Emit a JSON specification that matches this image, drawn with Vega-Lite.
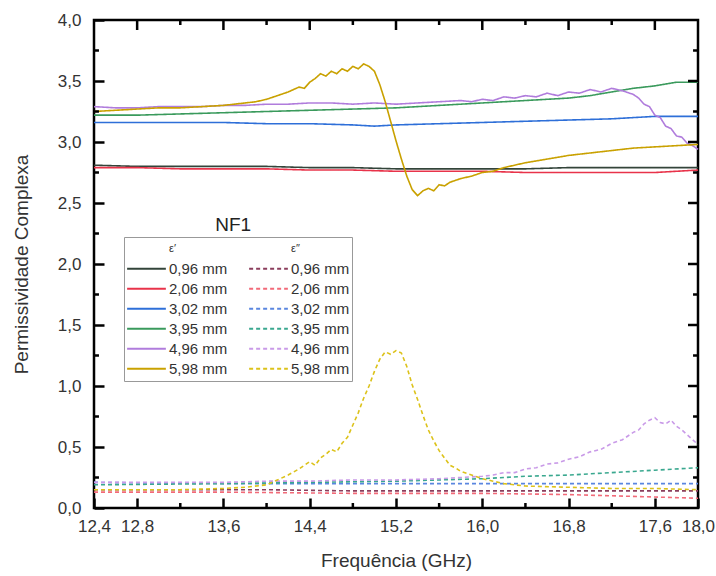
{
"$schema": "https://vega.github.io/schema/vega-lite/v6.json",
"width": 604, "height": 488,
"autosize": {"type": "none"},
"padding": {"left": 94, "top": 20, "right": 18, "bottom": 68},
"config": {"font": "Liberation Sans", "view": {"stroke": "black", "strokeWidth": 2.5}, "axis": {"grid": false}},
"data": {"values": [
{"k":"a1","f":12.4,"v":2.81},{"k":"a1","f":12.8,"v":2.80},{"k":"a1","f":13.2,"v":2.80},{"k":"a1","f":13.6,"v":2.80},{"k":"a1","f":14.0,"v":2.80},{"k":"a1","f":14.4,"v":2.79},{"k":"a1","f":14.8,"v":2.79},{"k":"a1","f":15.2,"v":2.78},{"k":"a1","f":15.6,"v":2.78},{"k":"a1","f":16.0,"v":2.78},{"k":"a1","f":16.4,"v":2.78},{"k":"a1","f":16.8,"v":2.79},{"k":"a1","f":17.2,"v":2.79},{"k":"a1","f":17.6,"v":2.79},{"k":"a1","f":18.0,"v":2.79},
{"k":"a2","f":12.4,"v":2.79},{"k":"a2","f":12.8,"v":2.79},{"k":"a2","f":13.2,"v":2.78},{"k":"a2","f":13.6,"v":2.78},{"k":"a2","f":14.0,"v":2.78},{"k":"a2","f":14.4,"v":2.77},{"k":"a2","f":14.8,"v":2.77},{"k":"a2","f":15.2,"v":2.76},{"k":"a2","f":15.6,"v":2.76},{"k":"a2","f":16.0,"v":2.76},{"k":"a2","f":16.4,"v":2.75},{"k":"a2","f":16.8,"v":2.75},{"k":"a2","f":17.2,"v":2.75},{"k":"a2","f":17.6,"v":2.75},{"k":"a2","f":17.8,"v":2.76},{"k":"a2","f":18.0,"v":2.77},
{"k":"a3","f":12.4,"v":3.16},{"k":"a3","f":12.8,"v":3.16},{"k":"a3","f":13.2,"v":3.16},{"k":"a3","f":13.6,"v":3.16},{"k":"a3","f":14.0,"v":3.15},{"k":"a3","f":14.4,"v":3.15},{"k":"a3","f":14.8,"v":3.14},{"k":"a3","f":15.0,"v":3.13},{"k":"a3","f":15.2,"v":3.14},{"k":"a3","f":15.6,"v":3.15},{"k":"a3","f":16.0,"v":3.16},{"k":"a3","f":16.4,"v":3.17},{"k":"a3","f":16.8,"v":3.18},{"k":"a3","f":17.2,"v":3.19},{"k":"a3","f":17.6,"v":3.21},{"k":"a3","f":18.0,"v":3.21},
{"k":"a4","f":12.4,"v":3.22},{"k":"a4","f":12.8,"v":3.22},{"k":"a4","f":13.2,"v":3.23},{"k":"a4","f":13.6,"v":3.24},{"k":"a4","f":14.0,"v":3.25},{"k":"a4","f":14.4,"v":3.26},{"k":"a4","f":14.8,"v":3.27},{"k":"a4","f":15.2,"v":3.28},{"k":"a4","f":15.6,"v":3.30},{"k":"a4","f":16.0,"v":3.32},{"k":"a4","f":16.4,"v":3.34},{"k":"a4","f":16.8,"v":3.36},{"k":"a4","f":17.0,"v":3.38},{"k":"a4","f":17.2,"v":3.41},{"k":"a4","f":17.4,"v":3.44},{"k":"a4","f":17.6,"v":3.46},{"k":"a4","f":17.8,"v":3.49},{"k":"a4","f":18.0,"v":3.49},
{"k":"a5","f":12.4,"v":3.29},{"k":"a5","f":12.6,"v":3.28},{"k":"a5","f":12.8,"v":3.28},{"k":"a5","f":13.0,"v":3.29},{"k":"a5","f":13.2,"v":3.29},{"k":"a5","f":13.4,"v":3.29},{"k":"a5","f":13.6,"v":3.30},{"k":"a5","f":13.8,"v":3.30},{"k":"a5","f":14.0,"v":3.31},{"k":"a5","f":14.2,"v":3.31},{"k":"a5","f":14.4,"v":3.32},{"k":"a5","f":14.6,"v":3.32},{"k":"a5","f":14.8,"v":3.31},{"k":"a5","f":15.0,"v":3.32},{"k":"a5","f":15.2,"v":3.31},{"k":"a5","f":15.4,"v":3.32},{"k":"a5","f":15.6,"v":3.33},{"k":"a5","f":15.8,"v":3.34},{"k":"a5","f":15.9,"v":3.33},{"k":"a5","f":16.0,"v":3.35},{"k":"a5","f":16.1,"v":3.34},{"k":"a5","f":16.2,"v":3.37},{"k":"a5","f":16.3,"v":3.36},{"k":"a5","f":16.4,"v":3.38},{"k":"a5","f":16.5,"v":3.37},{"k":"a5","f":16.6,"v":3.40},{"k":"a5","f":16.7,"v":3.38},{"k":"a5","f":16.8,"v":3.41},{"k":"a5","f":16.9,"v":3.40},{"k":"a5","f":17.0,"v":3.43},{"k":"a5","f":17.1,"v":3.41},{"k":"a5","f":17.2,"v":3.44},{"k":"a5","f":17.3,"v":3.42},{"k":"a5","f":17.4,"v":3.39},{"k":"a5","f":17.45,"v":3.36},{"k":"a5","f":17.5,"v":3.31},{"k":"a5","f":17.55,"v":3.29},{"k":"a5","f":17.6,"v":3.22},{"k":"a5","f":17.65,"v":3.20},{"k":"a5","f":17.7,"v":3.13},{"k":"a5","f":17.75,"v":3.11},{"k":"a5","f":17.8,"v":3.05},{"k":"a5","f":17.85,"v":3.04},{"k":"a5","f":17.9,"v":2.99},{"k":"a5","f":17.95,"v":2.97},{"k":"a5","f":18.0,"v":2.94},
{"k":"a6","f":12.4,"v":3.25},{"k":"a6","f":12.6,"v":3.26},{"k":"a6","f":12.8,"v":3.27},{"k":"a6","f":13.0,"v":3.28},{"k":"a6","f":13.2,"v":3.28},{"k":"a6","f":13.4,"v":3.29},{"k":"a6","f":13.6,"v":3.30},{"k":"a6","f":13.8,"v":3.32},{"k":"a6","f":13.9,"v":3.33},{"k":"a6","f":14.0,"v":3.35},{"k":"a6","f":14.1,"v":3.38},{"k":"a6","f":14.2,"v":3.41},{"k":"a6","f":14.3,"v":3.45},{"k":"a6","f":14.35,"v":3.44},{"k":"a6","f":14.4,"v":3.49},{"k":"a6","f":14.45,"v":3.52},{"k":"a6","f":14.5,"v":3.56},{"k":"a6","f":14.55,"v":3.54},{"k":"a6","f":14.6,"v":3.58},{"k":"a6","f":14.65,"v":3.56},{"k":"a6","f":14.7,"v":3.60},{"k":"a6","f":14.75,"v":3.58},{"k":"a6","f":14.8,"v":3.62},{"k":"a6","f":14.85,"v":3.60},{"k":"a6","f":14.9,"v":3.64},{"k":"a6","f":14.95,"v":3.62},{"k":"a6","f":15.0,"v":3.58},{"k":"a6","f":15.05,"v":3.47},{"k":"a6","f":15.1,"v":3.33},{"k":"a6","f":15.15,"v":3.17},{"k":"a6","f":15.2,"v":3.01},{"k":"a6","f":15.25,"v":2.86},{"k":"a6","f":15.3,"v":2.72},{"k":"a6","f":15.35,"v":2.61},{"k":"a6","f":15.4,"v":2.56},{"k":"a6","f":15.45,"v":2.60},{"k":"a6","f":15.5,"v":2.62},{"k":"a6","f":15.55,"v":2.60},{"k":"a6","f":15.6,"v":2.65},{"k":"a6","f":15.65,"v":2.64},{"k":"a6","f":15.7,"v":2.67},{"k":"a6","f":15.8,"v":2.70},{"k":"a6","f":15.9,"v":2.72},{"k":"a6","f":16.0,"v":2.75},{"k":"a6","f":16.1,"v":2.76},{"k":"a6","f":16.2,"v":2.79},{"k":"a6","f":16.4,"v":2.83},{"k":"a6","f":16.6,"v":2.86},{"k":"a6","f":16.8,"v":2.89},{"k":"a6","f":17.0,"v":2.91},{"k":"a6","f":17.2,"v":2.93},{"k":"a6","f":17.4,"v":2.95},{"k":"a6","f":17.6,"v":2.96},{"k":"a6","f":17.8,"v":2.97},{"k":"a6","f":18.0,"v":2.98},
{"k":"b1","f":12.4,"v":0.15},{"k":"b1","f":13.2,"v":0.15},{"k":"b1","f":14.0,"v":0.15},{"k":"b1","f":14.8,"v":0.14},{"k":"b1","f":15.6,"v":0.14},{"k":"b1","f":16.4,"v":0.14},{"k":"b1","f":17.2,"v":0.14},{"k":"b1","f":18.0,"v":0.14},
{"k":"b2","f":12.4,"v":0.13},{"k":"b2","f":13.6,"v":0.13},{"k":"b2","f":14.8,"v":0.12},{"k":"b2","f":16.0,"v":0.12},{"k":"b2","f":16.8,"v":0.11},{"k":"b2","f":17.2,"v":0.10},{"k":"b2","f":17.6,"v":0.09},{"k":"b2","f":18.0,"v":0.08},
{"k":"b3","f":12.4,"v":0.21},{"k":"b3","f":13.6,"v":0.20},{"k":"b3","f":14.8,"v":0.20},{"k":"b3","f":16.0,"v":0.20},{"k":"b3","f":17.2,"v":0.20},{"k":"b3","f":18.0,"v":0.20},
{"k":"b4","f":12.4,"v":0.19},{"k":"b4","f":13.6,"v":0.20},{"k":"b4","f":14.4,"v":0.21},{"k":"b4","f":15.2,"v":0.22},{"k":"b4","f":16.0,"v":0.24},{"k":"b4","f":16.4,"v":0.26},{"k":"b4","f":16.8,"v":0.27},{"k":"b4","f":17.2,"v":0.29},{"k":"b4","f":17.6,"v":0.31},{"k":"b4","f":18.0,"v":0.33},
{"k":"b5","f":12.4,"v":0.21},{"k":"b5","f":12.8,"v":0.21},{"k":"b5","f":13.2,"v":0.21},{"k":"b5","f":13.6,"v":0.21},{"k":"b5","f":14.0,"v":0.22},{"k":"b5","f":14.4,"v":0.22},{"k":"b5","f":14.8,"v":0.23},{"k":"b5","f":15.2,"v":0.23},{"k":"b5","f":15.6,"v":0.24},{"k":"b5","f":15.8,"v":0.25},{"k":"b5","f":16.0,"v":0.26},{"k":"b5","f":16.1,"v":0.27},{"k":"b5","f":16.2,"v":0.29},{"k":"b5","f":16.3,"v":0.29},{"k":"b5","f":16.4,"v":0.32},{"k":"b5","f":16.5,"v":0.33},{"k":"b5","f":16.6,"v":0.36},{"k":"b5","f":16.7,"v":0.37},{"k":"b5","f":16.8,"v":0.40},{"k":"b5","f":16.9,"v":0.42},{"k":"b5","f":17.0,"v":0.46},{"k":"b5","f":17.1,"v":0.48},{"k":"b5","f":17.2,"v":0.53},{"k":"b5","f":17.3,"v":0.56},{"k":"b5","f":17.4,"v":0.62},{"k":"b5","f":17.45,"v":0.64},{"k":"b5","f":17.5,"v":0.69},{"k":"b5","f":17.55,"v":0.72},{"k":"b5","f":17.6,"v":0.74},{"k":"b5","f":17.65,"v":0.70},{"k":"b5","f":17.7,"v":0.69},{"k":"b5","f":17.75,"v":0.72},{"k":"b5","f":17.8,"v":0.67},{"k":"b5","f":17.85,"v":0.64},{"k":"b5","f":17.9,"v":0.60},{"k":"b5","f":17.95,"v":0.56},{"k":"b5","f":18.0,"v":0.52},
{"k":"b6","f":12.4,"v":0.15},{"k":"b6","f":12.8,"v":0.15},{"k":"b6","f":13.2,"v":0.15},{"k":"b6","f":13.6,"v":0.16},{"k":"b6","f":13.8,"v":0.17},{"k":"b6","f":14.0,"v":0.19},{"k":"b6","f":14.1,"v":0.23},{"k":"b6","f":14.2,"v":0.27},{"k":"b6","f":14.3,"v":0.32},{"k":"b6","f":14.4,"v":0.38},{"k":"b6","f":14.45,"v":0.35},{"k":"b6","f":14.5,"v":0.41},{"k":"b6","f":14.55,"v":0.44},{"k":"b6","f":14.6,"v":0.48},{"k":"b6","f":14.65,"v":0.46},{"k":"b6","f":14.7,"v":0.53},{"k":"b6","f":14.75,"v":0.58},{"k":"b6","f":14.8,"v":0.68},{"k":"b6","f":14.85,"v":0.78},{"k":"b6","f":14.9,"v":0.90},{"k":"b6","f":14.95,"v":1.00},{"k":"b6","f":15.0,"v":1.12},{"k":"b6","f":15.05,"v":1.22},{"k":"b6","f":15.1,"v":1.28},{"k":"b6","f":15.15,"v":1.26},{"k":"b6","f":15.2,"v":1.29},{"k":"b6","f":15.25,"v":1.27},{"k":"b6","f":15.3,"v":1.16},{"k":"b6","f":15.35,"v":1.01},{"k":"b6","f":15.4,"v":0.89},{"k":"b6","f":15.45,"v":0.76},{"k":"b6","f":15.5,"v":0.64},{"k":"b6","f":15.55,"v":0.55},{"k":"b6","f":15.6,"v":0.47},{"k":"b6","f":15.65,"v":0.41},{"k":"b6","f":15.7,"v":0.35},{"k":"b6","f":15.75,"v":0.33},{"k":"b6","f":15.8,"v":0.30},{"k":"b6","f":15.9,"v":0.27},{"k":"b6","f":16.0,"v":0.24},{"k":"b6","f":16.1,"v":0.22},{"k":"b6","f":16.2,"v":0.20},{"k":"b6","f":16.4,"v":0.18},{"k":"b6","f":16.8,"v":0.17},{"k":"b6","f":17.2,"v":0.16},{"k":"b6","f":17.6,"v":0.16},{"k":"b6","f":18.0,"v":0.15}
]},
"layer": [
{
"mark": {"type": "line", "strokeWidth": 1.6},
"encoding": {
"x": {"field": "f", "type": "quantitative", "scale": {"domain": [12.4, 18], "nice": false, "zero": false},
 "axis": {"orient": "bottom", "values": [12.4, 12.8, 13.6, 14.4, 15.2, 16.0, 16.8, 17.6, 18.0], "ticks": true, "tickSize": -10, "tickWidth": 2.5, "tickColor": "black", "domain": false, "labelExpr": "replace(format(datum.value,'.1f'),'.',',')", "labelFontSize": 17, "labelColor": "#333", "labelPadding": 20, "labelOverlap": false, "labelFlush": false, "title": "Frequência (GHz)", "titleFontSize": 19, "titleFontWeight": "normal", "titleColor": "#333", "titlePadding": 17}},
"y": {"field": "v", "type": "quantitative", "scale": {"domain": [0, 4], "nice": false, "zero": false},
 "axis": {"orient": "left", "values": [0, 0.5, 1, 1.5, 2, 2.5, 3, 3.5, 4], "ticks": true, "tickSize": -10, "tickWidth": 2.5, "tickColor": "black", "domain": false, "labelExpr": "replace(format(datum.value,'.1f'),'.',',')", "labelFontSize": 17, "labelColor": "#333", "labelPadding": 23, "labelOverlap": false, "labelFlush": false, "title": "Permissividade Complexa", "titleFontSize": 19, "titleFontWeight": "normal", "titleColor": "#333", "titlePadding": 26}},
"color": {"field": "k", "type": "nominal",
 "scale": {"domain": ["h1","h2","a1","b1","a2","b2","a3","b3","a4","b4","a5","b5","a6","b6"], "range": ["transparent","transparent","#33443a","#8a3d5c","#e8334a","#f26a78","#2e6fd8","#5a86e0","#3a9a5c","#3aa88f","#b07cdc","#c99ae8","#c9a100","#dcc21a"]},
 "legend": {"title": null, "orient": "none", "direction": "horizontal", "legendX": 30, "legendY": 217, "columns": 2, "symbolType": "stroke", "symbolSize": 1500, "symbolStrokeWidth": 2, "clipHeight": 19.5, "labelFontSize": 15, "labelColor": "#333", "labelOffset": 2, "rowPadding": 0, "columnPadding": 20, "padding": 2, "strokeColor": "#999", "fillColor": "white", "labelLimit": 200,
  "labelExpr": "['\u00a0\u00a0\u00a0\u00a0ε′','\u00a0\u00a0\u00a0\u00a0ε″','0,96 mm','0,96 mm','2,06 mm','2,06 mm','3,02 mm','3,02 mm','3,95 mm','3,95 mm','4,96 mm','4,96 mm','5,98 mm','5,98 mm'][indexof(['h1','h2','a1','b1','a2','b2','a3','b3','a4','b4','a5','b5','a6','b6'], datum.value)]",
  "encode": {"labels": {"update": {"fontSize": {"signal": "datum.value === 'h1' || datum.value === 'h2' ? 11 : 15"}}}}}},
"strokeDash": {"field": "k", "type": "nominal",
 "scale": {"domain": ["h1","h2","a1","b1","a2","b2","a3","b3","a4","b4","a5","b5","a6","b6"], "range": [[1,0],[1,0],[1,0],[4,3],[1,0],[4,3],[1,0],[4,3],[1,0],[4,3],[1,0],[4,3],[1,0],[4,3]]},
 "legend": {"title": null, "orient": "none", "direction": "horizontal", "legendX": 30, "legendY": 217, "columns": 2, "symbolType": "stroke", "symbolSize": 1500, "symbolStrokeWidth": 2, "clipHeight": 19.5, "labelFontSize": 15, "labelColor": "#333", "labelOffset": 2, "rowPadding": 0, "columnPadding": 20, "padding": 2, "strokeColor": "#999", "fillColor": "white", "labelLimit": 200,
  "labelExpr": "['\u00a0\u00a0\u00a0\u00a0ε′','\u00a0\u00a0\u00a0\u00a0ε″','0,96 mm','0,96 mm','2,06 mm','2,06 mm','3,02 mm','3,02 mm','3,95 mm','3,95 mm','4,96 mm','4,96 mm','5,98 mm','5,98 mm'][indexof(['h1','h2','a1','b1','a2','b2','a3','b3','a4','b4','a5','b5','a6','b6'], datum.value)]",
  "encode": {"labels": {"update": {"fontSize": {"signal": "datum.value === 'h1' || datum.value === 'h2' ? 11 : 15"}}}}}}
}
},
{"data": {"values": [{"t":12.8},{"t":13.6},{"t":14.4},{"t":15.2},{"t":16.0},{"t":16.8},{"t":17.6}]}, "mark": {"type": "rule", "color": "black", "strokeWidth": 2.5},
 "encoding": {"x": {"field": "t", "type": "quantitative", "scale": {"domain": [12.4, 18], "nice": false, "zero": false}, "axis": null}, "y": {"datum": 4, "type": "quantitative", "scale": {"domain": [0, 4], "nice": false, "zero": false}, "axis": null}, "y2": {"datum": 3.918}}},
{"data": {"values": [{"t":13.2},{"t":14.0},{"t":14.8},{"t":15.6},{"t":16.4},{"t":17.2}]}, "mark": {"type": "rule", "color": "black", "strokeWidth": 2.5},
 "encoding": {"x": {"field": "t", "type": "quantitative", "scale": {"domain": [12.4, 18], "nice": false, "zero": false}, "axis": null}, "y": {"datum": 4, "type": "quantitative", "scale": {"domain": [0, 4], "nice": false, "zero": false}, "axis": null}, "y2": {"datum": 3.959}}},
{"data": {"values": [{"t":13.2},{"t":14.0},{"t":14.8},{"t":15.6},{"t":16.4},{"t":17.2}]}, "mark": {"type": "rule", "color": "black", "strokeWidth": 2.5},
 "encoding": {"x": {"field": "t", "type": "quantitative", "scale": {"domain": [12.4, 18], "nice": false, "zero": false}, "axis": null}, "y": {"datum": 0, "type": "quantitative", "scale": {"domain": [0, 4], "nice": false, "zero": false}, "axis": null}, "y2": {"datum": 0.041}}},
{"data": {"values": [{"t":0.5},{"t":1.0},{"t":1.5},{"t":2.0},{"t":2.5},{"t":3.0},{"t":3.5}]}, "mark": {"type": "rule", "color": "black", "strokeWidth": 2.5},
 "encoding": {"y": {"field": "t", "type": "quantitative", "scale": {"domain": [0, 4], "nice": false, "zero": false}, "axis": null}, "x": {"datum": 18, "type": "quantitative", "scale": {"domain": [12.4, 18], "nice": false, "zero": false}, "axis": null}, "x2": {"datum": 17.907}}},
{"data": {"values": [{"t":0.25},{"t":0.75},{"t":1.25},{"t":1.75},{"t":2.25},{"t":2.75},{"t":3.25},{"t":3.75}]}, "mark": {"type": "rule", "color": "black", "strokeWidth": 2.5},
 "encoding": {"y": {"field": "t", "type": "quantitative", "scale": {"domain": [0, 4], "nice": false, "zero": false}, "axis": null}, "x": {"datum": 18, "type": "quantitative", "scale": {"domain": [12.4, 18], "nice": false, "zero": false}, "axis": null}, "x2": {"datum": 17.954}}},
{"data": {"values": [{"t":0.25},{"t":0.75},{"t":1.25},{"t":1.75},{"t":2.25},{"t":2.75},{"t":3.25},{"t":3.75}]}, "mark": {"type": "rule", "color": "black", "strokeWidth": 2.5},
 "encoding": {"y": {"field": "t", "type": "quantitative", "scale": {"domain": [0, 4], "nice": false, "zero": false}, "axis": null}, "x": {"datum": 12.4, "type": "quantitative", "scale": {"domain": [12.4, 18], "nice": false, "zero": false}, "axis": null}, "x2": {"datum": 12.446}}},
{
"data": {"values": [{}]},
"mark": {"type": "text", "text": "NF1", "fontSize": 19, "color": "#222"},
"encoding": {
"x": {"datum": 13.69, "type": "quantitative", "scale": {"domain": [12.4, 18], "nice": false, "zero": false}, "axis": null},
"y": {"datum": 2.32, "type": "quantitative", "scale": {"domain": [0, 4], "nice": false, "zero": false}, "axis": null}
}
}
],
"resolve": {"scale": {"x": "independent", "y": "independent"}, "axis": {"x": "independent", "y": "independent"}}
}
